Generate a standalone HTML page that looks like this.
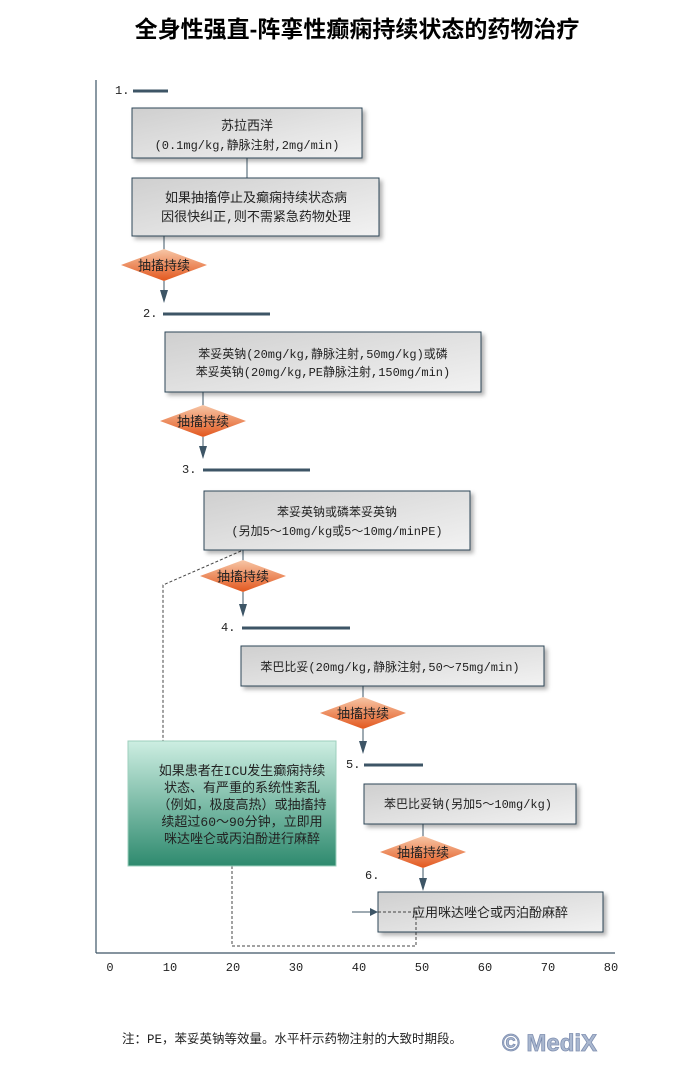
<!DOCTYPE html>
<html><head><meta charset="utf-8"><style>
html,body{margin:0;padding:0;background:#fff;}
svg{display:block;}
text{font-family:"Liberation Mono","Noto Sans CJK SC",monospace;}
</style></head><body>
<svg width="683" height="1074" viewBox="0 0 683 1074" xmlns="http://www.w3.org/2000/svg">
<defs>
<linearGradient id="box" x1="0" y1="0" x2="1" y2="1"><stop offset="0" stop-color="#cfcfcf"/><stop offset="1" stop-color="#f2f2f2"/></linearGradient>
<linearGradient id="dia" x1="0" y1="0" x2="0" y2="1"><stop offset="0" stop-color="#f7c6a6"/><stop offset="1" stop-color="#e2571e"/></linearGradient>
<linearGradient id="grn" x1="0" y1="0" x2="0" y2="1"><stop offset="0" stop-color="#cdeee2"/><stop offset="1" stop-color="#2e8a6e"/></linearGradient>
<filter id="sh" x="-5%" y="-10%" width="115%" height="130%"><feDropShadow dx="3" dy="3" stdDeviation="2" flood-color="#000" flood-opacity="0.3"/></filter>
</defs>
<text x="357" y="37" font-size="23" font-weight="bold" text-anchor="middle" fill="#000" style='font-family:"Liberation Sans","Noto Sans CJK SC",sans-serif'>全身性强直-阵挛性癫痫持续状态的药物治疗</text>
<line x1="96" y1="80" x2="96" y2="953" stroke="#3d5566" stroke-width="1.2"/>
<line x1="96" y1="953" x2="615" y2="953" stroke="#3d5566" stroke-width="1.2"/>
<g font-size="12" fill="#222" text-anchor="middle">
<text x="110" y="971">0</text><text x="170" y="971">10</text><text x="233" y="971">20</text><text x="296" y="971">30</text><text x="359" y="971">40</text><text x="422" y="971">50</text><text x="485" y="971">60</text><text x="548" y="971">70</text><text x="611" y="971">80</text>
</g>
<g stroke="#3d5566" stroke-width="3">
<line x1="133" y1="91" x2="168" y2="91"/>
<line x1="163" y1="314" x2="270" y2="314"/>
<line x1="203" y1="470" x2="310" y2="470"/>
<line x1="242" y1="628" x2="350" y2="628"/>
<line x1="364" y1="765" x2="423" y2="765"/>
</g>
<g font-size="12" fill="#222">
<text x="115" y="94">1.</text><text x="143" y="317">2.</text><text x="182" y="473">3.</text><text x="221" y="631">4.</text><text x="346" y="768">5.</text><text x="365" y="879">6.</text>
</g>
<g stroke="#3d5566" stroke-width="1">
<line x1="247" y1="158" x2="247" y2="178"/>
<line x1="164" y1="236" x2="164" y2="250"/>
<line x1="164" y1="281" x2="164" y2="292"/>
<line x1="203" y1="392" x2="203" y2="406"/>
<line x1="203" y1="437" x2="203" y2="448"/>
<line x1="243" y1="550" x2="243" y2="561"/>
<line x1="243" y1="592" x2="243" y2="606"/>
<line x1="363" y1="686" x2="363" y2="698"/>
<line x1="363" y1="729" x2="363" y2="743"/>
<line x1="423" y1="824" x2="423" y2="837"/>
<line x1="423" y1="868" x2="423" y2="880"/>
</g>
<g fill="#3d5566">
<path d="M160,290 L168,290 L164,303 Z"/>
<path d="M199,446 L207,446 L203,459 Z"/>
<path d="M239,604 L247,604 L243,617 Z"/>
<path d="M359,741 L367,741 L363,754 Z"/>
<path d="M419,878 L427,878 L423,891 Z"/>
</g>
<line x1="352" y1="912" x2="372" y2="912" stroke="#3d5566" stroke-width="1"/>
<path d="M370,908 L378,912 L370,916 Z" fill="#3d5566"/>
<g stroke="#444" stroke-width="1" stroke-dasharray="3,2" fill="none">
<path d="M241,551 L163,585 L163,741"/>
<path d="M232,866 L232,946 L416,946 L416,912"/>
</g>
<g stroke="#2f4658" stroke-width="1" fill="url(#box)" filter="url(#sh)">
<rect x="132" y="108" width="230" height="50"/>
<rect x="132" y="178" width="247" height="58"/>
<rect x="165" y="332" width="316" height="60"/>
<rect x="204" y="491" width="266" height="59"/>
<rect x="241" y="646" width="303" height="40"/>
<rect x="364" y="784" width="212" height="40"/>
<rect x="378" y="892" width="225" height="40"/>
</g>
<line x1="416" y1="912" x2="416" y2="932" stroke="#444" stroke-dasharray="3,2"/>
<line x1="378" y1="912" x2="416" y2="912" stroke="#444" stroke-dasharray="3,2"/>
<rect x="128" y="741" width="208" height="125" fill="url(#grn)" stroke="#9dcfbd" stroke-width="1"/>
<g fill="url(#dia)">
<polygon points="121,265 164,249 207,265 164,281"/>
<polygon points="160,421 203,405 246,421 203,437"/>
<polygon points="200,576 243,560 286,576 243,592"/>
<polygon points="320,713 363,697 406,713 363,729"/>
<polygon points="380,852 423,836 466,852 423,868"/>
</g>
<g font-size="13" fill="#222" text-anchor="middle" style='font-family:"Noto Sans CJK SC",sans-serif'>
<text x="164" y="270">抽搐持续</text>
<text x="203" y="426">抽搐持续</text>
<text x="243" y="581">抽搐持续</text>
<text x="363" y="718">抽搐持续</text>
<text x="423" y="857">抽搐持续</text>
</g>
<g font-size="12" fill="#222" text-anchor="middle">
<text x="247" y="130" font-size="13">苏拉西洋</text>
<text x="247" y="149">(0.1mg/kg,静脉注射,2mg/min)</text>
<text x="256" y="202" font-size="13">如果抽搐停止及癫痫持续状态病</text>
<text x="256" y="221" font-size="13">因很快纠正,则不需紧急药物处理</text>
<text x="323" y="358">苯妥英钠(20mg/kg,静脉注射,50mg/kg)或磷</text>
<text x="323" y="376">苯妥英钠(20mg/kg,PE静脉注射,150mg/min)</text>
<text x="337" y="516">苯妥英钠或磷苯妥英钠</text>
<text x="337" y="535">(另加5～10mg/kg或5～10mg/minPE)</text>
<text x="390" y="671">苯巴比妥(20mg/kg,静脉注射,50～75mg/min)</text>
<text x="468" y="808">苯巴比妥钠(另加5～10mg/kg)</text>
<text x="490" y="917" font-size="13">应用咪达唑仑或丙泊酚麻醉</text>
<text x="242" y="775" font-size="13">如果患者在ICU发生癫痫持续</text>
<text x="242" y="792" font-size="13">状态、有严重的系统性紊乱</text>
<text x="242" y="809" font-size="13">（例如，极度高热）或抽搐持</text>
<text x="242" y="826" font-size="13">续超过60～90分钟，立即用</text>
<text x="242" y="843" font-size="13">咪达唑仑或丙泊酚进行麻醉</text>
</g>
<text x="122" y="1043" font-size="12.5" fill="#222">注：PE，苯妥英钠等效量。水平杆示药物注射的大致时期段。</text>
<text x="502" y="1051" font-size="24" font-weight="bold" fill="#aab8d0" stroke="#7f8fb0" stroke-width="0.8" style='font-family:"Liberation Sans",sans-serif'>© MediX</text>
</svg>
</body></html>
